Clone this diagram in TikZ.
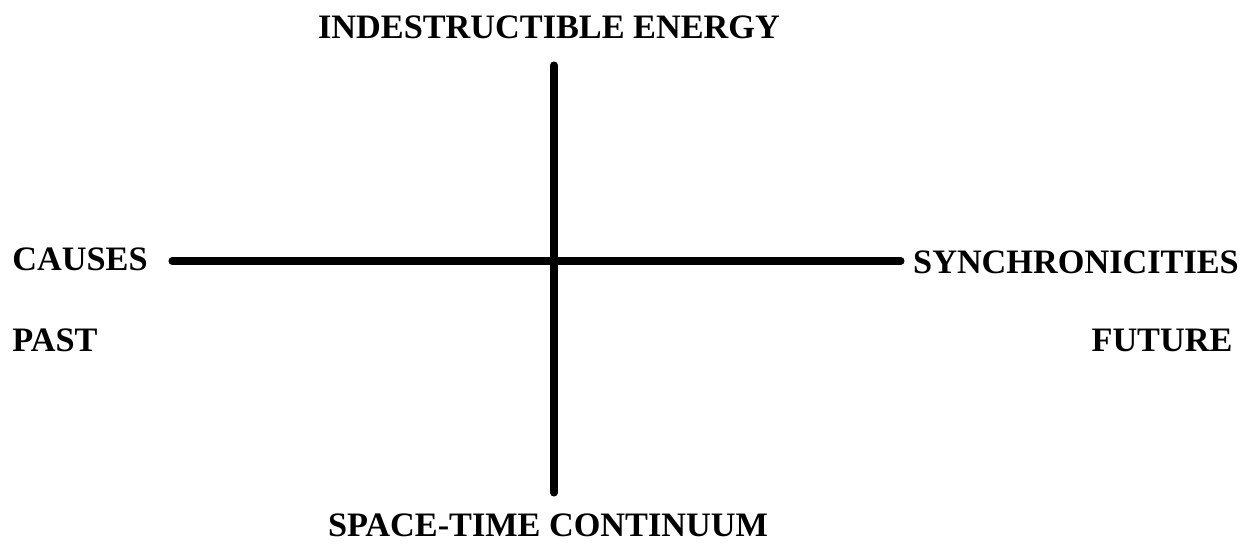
\documentclass[tikz,border=0pt]{standalone}
\usepackage{fontspec}
\setmainfont{Liberation Serif}
\usetikzlibrary{positioning}
\tikzset{
  lbl/.style={inner sep=0pt,font=\bfseries\fontsize{19.5}{23}\selectfont},
  axisline/.style={line width=4pt,line cap=round}
}

\begin{document}
\begin{tikzpicture}[x=0.02cm,y=-0.02cm]
        \useasboundingbox (0,0) rectangle (1249,545);
        \coordinate (top) at (554,65); \coordinate (bottom) at (554,493);
        \coordinate (left) at (172,261); \coordinate (right) at (901,261);
        \node[lbl] (energy) at (549,27) {INDESTRUCTIBLE ENERGY};
        \node[lbl] (spacetime) at (548,525) {SPACE-TIME CONTINUUM};
        \node[lbl] (causes) at (80,259) {CAUSES};
        \node[lbl] (synchro) at (1076,262) {SYNCHRONICITIES};
        \node[lbl] (past) at (55,340) {PAST};
        \node[lbl] (future) at (1162,340) {FUTURE};
        \draw[axisline] (top) -- (bottom);
        \draw[axisline] (left) -- (right);
      \end{tikzpicture}
\end{document}
